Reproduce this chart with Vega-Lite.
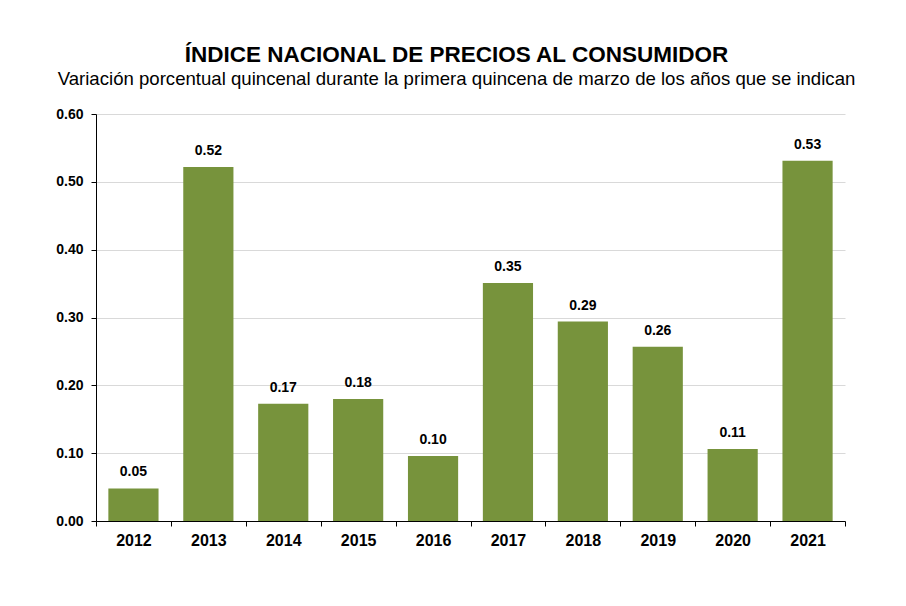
{
  "$schema": "https://vega.github.io/schema/vega-lite/v6.json",
  "autosize": "none",
  "width": 749,
  "height": 407,
  "padding": {"left": 96, "top": 114, "right": 61, "bottom": 85},
  "background": "white",
  "config": {
    "font": "Liberation Sans",
    "view": {"stroke": null}
  },
  "title": {
    "text": "ÍNDICE NACIONAL DE PRECIOS AL CONSUMIDOR",
    "subtitle": "Variación porcentual quincenal durante la primera quincena de marzo de los años que se indican",
    "anchor": "middle",
    "frame": "group",
    "dx": -14,
    "offset": 18,
    "font": "Liberation Sans",
    "fontSize": 22.5,
    "fontWeight": "bold",
    "color": "#000000",
    "subtitleFont": "Liberation Sans",
    "subtitleFontSize": 18.6,
    "subtitleColor": "#000000",
    "subtitlePadding": 4
  },
  "data": {
    "values": [
      {"anio": "2012", "variacion": 0.048},
      {"anio": "2013", "variacion": 0.522},
      {"anio": "2014", "variacion": 0.173},
      {"anio": "2015", "variacion": 0.180},
      {"anio": "2016", "variacion": 0.096},
      {"anio": "2017", "variacion": 0.351},
      {"anio": "2018", "variacion": 0.294},
      {"anio": "2019", "variacion": 0.257},
      {"anio": "2020", "variacion": 0.106},
      {"anio": "2021", "variacion": 0.531}
    ]
  },
  "encoding": {
    "x": {
      "field": "anio",
      "type": "ordinal",
      "scale": {"paddingInner": 0, "paddingOuter": 0},
      "axis": {
        "title": null,
        "labelAngle": 0,
        "labelFont": "Liberation Sans",
        "labelFontSize": 16,
        "labelFontWeight": "bold",
        "labelColor": "#000000",
        "labelPadding": 6,
        "tickBand": "extent",
        "tickSize": 5,
        "tickColor": "#000000",
        "domainColor": "#000000",
        "grid": false
      }
    },
    "y": {
      "field": "variacion",
      "type": "quantitative",
      "scale": {"domain": [0, 0.6], "nice": false},
      "axis": {
        "title": null,
        "values": [0, 0.1, 0.2, 0.3, 0.4, 0.5, 0.6],
        "format": ".2f",
        "labelFont": "Liberation Sans",
        "labelFontSize": 14,
        "labelFontWeight": "bold",
        "labelColor": "#000000",
        "labelPadding": 8,
        "tickSize": 5,
        "tickColor": "#000000",
        "domainColor": "#000000",
        "grid": true,
        "gridColor": "#d9d9d9",
        "gridWidth": 1
      }
    }
  },
  "layer": [
    {
      "mark": {"type": "bar", "color": "#77933c", "width": {"band": 0.67}}
    },
    {
      "mark": {
        "type": "text",
        "font": "Liberation Sans",
        "fontSize": 14,
        "fontWeight": "bold",
        "color": "#000000",
        "baseline": "alphabetic",
        "dy": -12
      },
      "encoding": {
        "text": {"field": "variacion", "type": "quantitative", "format": ".2f"}
      }
    }
  ]
}
